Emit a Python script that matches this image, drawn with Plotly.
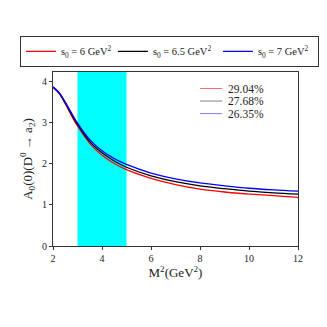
import plotly.graph_objects as go

m2 = [2, 2.25, 2.5, 2.75, 3, 3.5, 4, 4.5, 5, 6, 7, 8, 9, 10, 11, 12]
a0_s6 = [3.85, 3.70, 3.45, 3.17, 2.91, 2.49, 2.20, 2.00, 1.85, 1.64, 1.49, 1.38, 1.31, 1.26, 1.22, 1.18]
a0_s65 = [3.85, 3.71, 3.47, 3.20, 2.95, 2.53, 2.26, 2.06, 1.91, 1.70, 1.56, 1.46, 1.39, 1.33, 1.29, 1.26]
a0_s7 = [3.86, 3.72, 3.49, 3.23, 2.98, 2.58, 2.31, 2.12, 1.98, 1.77, 1.63, 1.53, 1.46, 1.40, 1.36, 1.33]
names = ["s<sub>0</sub> = 6 GeV<sup>2</sup>", "s<sub>0</sub> = 6.5 GeV<sup>2</sup>", "s<sub>0</sub> = 7 GeV<sup>2</sup>"]
colors = ["#ff0000", "#000000", "#0000ff"]
entry_widths = [47, 60, 55]
pct_labels = ["29.04%", "27.68%", "26.35%"]
pct_colors = ["rgba(255,0,0,0.6)", "rgba(0,0,0,0.5)", "rgba(0,0,255,0.5)"]
band = [3, 5]

font = "Liberation Serif"
fig = go.Figure()
for ys, nm, c, ew in zip([a0_s6, a0_s65, a0_s7], names, colors, entry_widths):
    fig.add_trace(go.Scatter(x=m2, y=ys, mode="lines", name=nm, legendwidth=ew,
                             line=dict(color=c, width=1.3, shape="spline")))

fig.add_vrect(x0=band[0], x1=band[1], fillcolor="#00ffff", line_width=0, layer="below", opacity=1)

for i, (lab, pc) in enumerate(zip(pct_labels, pct_colors)):
    yp = 0.905 - i * 0.072
    fig.add_shape(type="line", xref="paper", yref="paper", x0=0.6, x1=0.69, y0=yp, y1=yp,
                  line=dict(color=pc, width=1))
    fig.add_annotation(xref="paper", yref="paper", x=0.705, y=yp, text=lab, showarrow=False,
                       xanchor="left", yanchor="middle", font=dict(family=font, size=11.5, color="#222"))

fig.update_layout(
    width=327, height=327,
    margin=dict(l=53, r=29, t=72, b=81),
    paper_bgcolor="white", plot_bgcolor="white",
    font=dict(family=font, size=10, color="#222"),
    showlegend=True,
    legend=dict(orientation="h", x=-0.135, xanchor="left", y=1.03, yanchor="bottom",
                bordercolor="#333", borderwidth=1, font=dict(family=font, size=10.5, color="#222"),
                itemwidth=30, tracegroupgap=0, bgcolor="white"),
    xaxis=dict(range=[2, 12], tickvals=[2, 4, 6, 8, 10, 12], showgrid=False, zeroline=False,
               showline=True, linecolor="#333", linewidth=1, mirror=True, ticks="outside",
               ticklen=3, tickcolor="#333",
               title=dict(text="M<sup>2</sup>(GeV<sup>2</sup>)", font=dict(family=font, size=13), standoff=4)),
    yaxis=dict(range=[0, 4.22], tickvals=[0, 1, 2, 3, 4], showgrid=False, zeroline=False,
               showline=True, linecolor="#333", linewidth=1, mirror=True, ticks="outside",
               ticklen=3, tickcolor="#333",
               title=dict(text="A<sub>0</sub>(0)(D<sup>0</sup> → a<sub>2</sub>)", font=dict(family=font, size=13), standoff=6)),
)
fig.write_html("out.html", config={"displayModeBar": False},
               post_script="document.body.style.margin='0';document.body.style.padding='0';")
